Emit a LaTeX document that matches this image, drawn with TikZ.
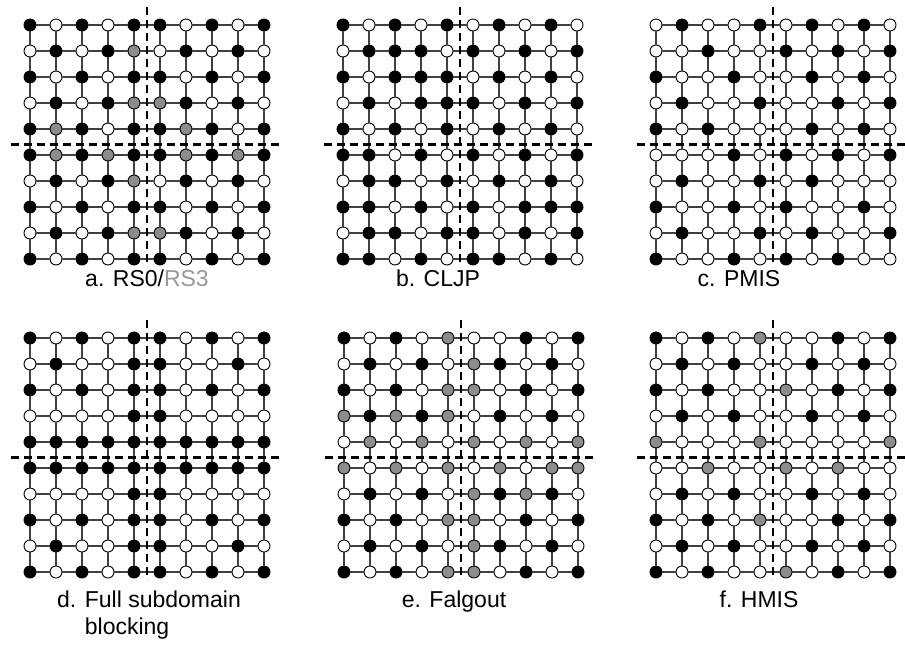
\documentclass[tikz,border=0pt]{standalone}
\usepackage{fontspec}
\setmainfont{Liberation Sans}
\usepackage{xcolor}

\colorlet{cB}{black}
\colorlet{cW}{white}
\colorlet{cG}{black!45}

\tikzset{
  vtx/.style={circle, draw=black, line width=0.9pt, minimum size=12pt, inner sep=0pt},
  link/.style={draw=black!75, line width=1.3pt},
  cutline/.style={draw=black, line width=2.2pt, dash pattern=on 8pt off 5pt},
  caption/.style={font=\fontsize{23}{27}\selectfont, inner sep=0pt, anchor=base}
}

% one 10x10 mesh: name, left x, top y, rows of B/W/G
\newcommand{\meshpanel}[4]{%
  \foreach \rowlist [count=\r from 0] in {#4} {
    \foreach \c [count=\k from 0] in \rowlist {
      \node[vtx, fill=c\c] (#1-\r-\k) at (#2+\k*26, #3+\r*26) {};
    }
  }
  \foreach \r in {0,...,9} {
    \foreach \k [evaluate=\k as \kn using int(\k+1)] in {0,...,8} {
      \draw[link] (#1-\r-\k) -- (#1-\r-\kn);
      \draw[link] (#1-\k-\r) -- (#1-\kn-\r);
    }
  }
  % subdomain cuts
  \draw[cutline] (#2+117, #3-18) -- (#2+117, #3+242);
  \draw[cutline] (#2-19, #3+119.5) -- (#2+253, #3+119.5);
}

\begin{document}
\begin{tikzpicture}[x=1pt, y=-1pt]
  \useasboundingbox (0,0) rectangle (905,649);

  % a. RS0/RS3
  \meshpanel{a}{30}{25}{
    {B,W,B,W,B,B,W,B,W,B},
    {W,B,W,B,G,W,B,W,B,W},
    {B,W,B,W,B,B,W,B,W,B},
    {W,B,W,B,G,G,B,W,B,W},
    {B,G,B,W,B,B,G,B,W,B},
    {B,G,B,G,B,B,G,B,G,B},
    {W,B,W,B,G,W,B,W,B,W},
    {B,W,B,W,B,B,W,B,W,B},
    {W,B,W,B,G,G,B,W,B,W},
    {B,W,B,W,B,B,W,B,W,B}}

  % b. CLJP
  \meshpanel{b}{343}{25}{
    {B,W,B,W,B,W,B,W,B,W},
    {W,B,B,B,W,B,W,B,W,B},
    {B,W,B,B,B,W,B,W,B,W},
    {W,B,W,B,B,B,W,B,W,B},
    {B,W,B,W,B,W,B,W,B,W},
    {B,B,W,B,W,B,W,B,W,B},
    {W,B,B,W,B,W,B,W,B,W},
    {B,B,W,B,W,B,W,B,B,B},
    {W,B,B,W,B,B,W,B,W,B},
    {B,B,W,B,W,B,B,W,B,W}}

  % c. PMIS
  \meshpanel{c}{656}{25}{
    {W,B,W,W,B,W,B,W,B,W},
    {W,W,B,W,W,B,W,B,W,B},
    {B,W,W,B,W,W,B,W,B,W},
    {W,B,W,W,B,W,W,B,W,B},
    {B,W,B,W,W,W,B,W,B,W},
    {W,W,W,B,W,B,W,B,W,B},
    {W,B,W,W,B,W,B,W,W,W},
    {B,W,W,B,W,B,W,W,B,W},
    {W,B,W,W,B,W,B,W,W,B},
    {B,W,W,B,W,B,W,B,W,W}}

  % d. full subdomain blocking
  \meshpanel{d}{30}{338}{
    {B,W,B,W,B,B,W,B,W,B},
    {W,B,W,W,B,B,W,W,B,W},
    {B,W,B,W,B,B,W,B,W,B},
    {W,W,W,W,B,B,W,W,W,W},
    {B,B,B,B,B,B,B,B,B,B},
    {B,B,B,B,B,B,B,B,B,B},
    {W,W,W,W,B,B,W,W,W,W},
    {B,W,B,W,B,B,W,B,W,B},
    {W,B,W,W,B,B,W,W,B,W},
    {B,W,B,W,B,B,W,B,W,B}}

  % e. Falgout
  \meshpanel{e}{344}{338}{
    {B,W,B,W,G,W,W,B,W,B},
    {W,B,W,B,W,G,B,W,B,W},
    {B,W,B,W,G,G,W,B,W,B},
    {G,B,G,B,G,W,B,W,B,W},
    {W,G,W,G,W,G,W,G,W,G},
    {G,W,G,W,G,W,G,W,G,G},
    {W,B,W,B,W,G,B,G,B,W},
    {B,W,B,W,G,G,W,B,W,B},
    {W,B,W,B,W,G,B,W,B,W},
    {B,W,B,W,G,G,W,B,W,B}}

  % f. HMIS
  \meshpanel{f}{656}{338}{
    {B,W,B,W,G,W,W,B,W,B},
    {W,B,W,B,W,W,B,W,B,W},
    {B,W,B,W,W,G,W,B,W,B},
    {W,B,W,B,W,W,B,W,B,W},
    {G,W,W,W,G,W,W,W,W,G},
    {W,W,G,W,W,G,W,G,W,W},
    {W,B,W,B,W,W,B,W,B,W},
    {B,W,B,W,G,W,W,B,W,B},
    {W,B,W,B,W,W,B,W,B,W},
    {B,W,B,W,W,G,W,B,W,B}}

  % captions
  \node[caption] (capa) at (147,286) {a. RS0/\textcolor{black!40}{RS3}};
  \node[caption] (capb) at (438,286) {b. CLJP};
  \node[caption] (capc) at (739,286) {c. PMIS};
  \node[caption, anchor=base west] (capd) at (57,607) {d. Full subdomain};
  \node[caption, anchor=base west] (capd2) at (57,634) {\phantom{d. }blocking};
  \node[caption] (cape) at (454,607) {e. Falgout};
  \node[caption] (capf) at (759,607) {f. HMIS};
\end{tikzpicture}
\end{document}
